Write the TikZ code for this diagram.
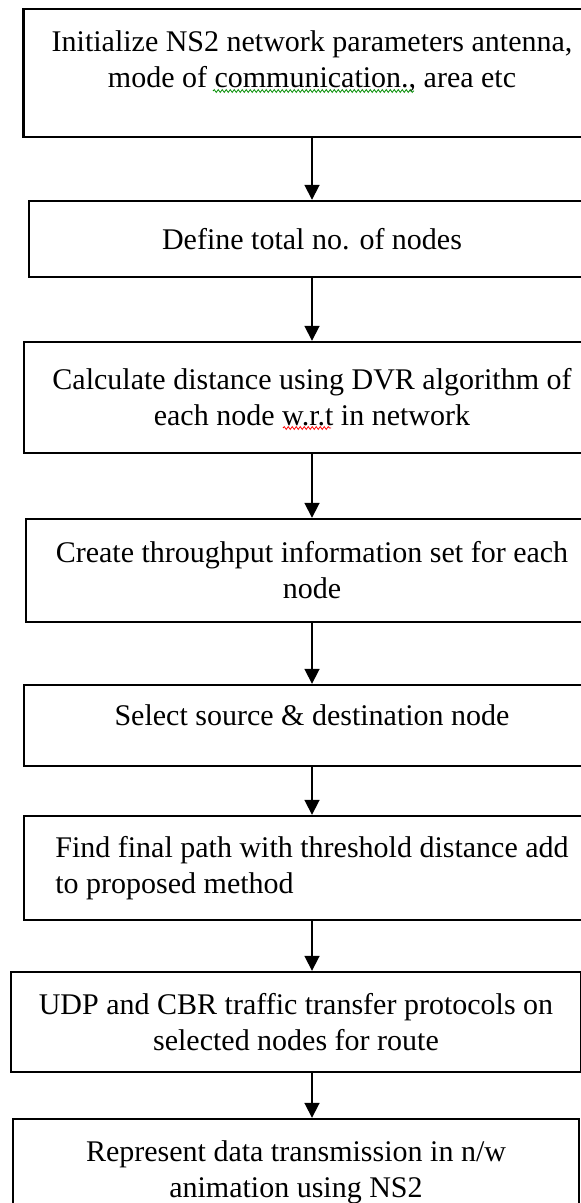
\documentclass[tikz,border=0pt]{standalone}
\usepackage{fontspec}
\setmainfont{Liberation Serif}
\usetikzlibrary{arrows.meta, positioning, decorations.pathmorphing}

\begin{document}
\begin{tikzpicture}[x=0.5pt,y=-0.5pt,
    stepbox/.style={draw,line width=1.2pt,inner xsep=14pt,align=center,
        font=\fontsize{15}{18}\selectfont},
    flow/.style={-{Triangle[length=7.5pt,width=7.5pt]},line width=0.9pt},
    spellwave/.style={line width=0.4pt,decorate,
        decoration={snake,segment length=2pt,amplitude=0.7pt}}]

% page frame
\useasboundingbox (0,0) rectangle (581,1203);
\clip (0,0) rectangle (581,1203);

\def\midx{312}
\def\lowx{296}

\node[stepbox,minimum width=288pt,minimum height=64pt] (init) at (\midx,73)
    {Initialize NS2 network parameters antenna,\\ mode of communication., area etc\\[-4pt]\mbox{}};
\node[stepbox,minimum width=283pt,minimum height=38pt] (define) at (\midx,239)
    {Define total no. of nodes};
\node[stepbox,minimum width=288pt,minimum height=55.5pt] (dist) at (\midx,397.5)
    {Calculate distance using DVR algorithm of\\ each node w.r.t in network};
\node[stepbox,minimum width=286pt,minimum height=51.5pt] (thru) at (\midx,570.5)
    {Create throughput information set for each\\ node};
\node[stepbox,minimum width=288pt,minimum height=40.5pt] (select) at (\midx,725.5)
    {Select source \& destination node\\[-7.5pt]\mbox{}};
\node[stepbox,align=left,minimum width=288pt,minimum height=52pt] (path) at (\midx,868)
    {Find final path with threshold distance add\\ to proposed method};
\node[stepbox,minimum width=283pt,minimum height=50pt] (udp) at (\lowx,1022)
    {UDP and CBR traffic transfer protocols on\\ selected nodes for route};
\node[stepbox,minimum width=283pt,minimum height=53pt] (anim) at (\lowx,1172)
    {Represent data transmission in n/w\\ animation using NS2};

% spell check marks
\draw[spellwave,green!55!black] (213,91) -- (414,91);
\draw[spellwave,red] (283,428) -- (331,428);

\foreach \a/\b in {init/define, define/dist, dist/thru, thru/select, select/path}
    \draw[flow] (\a) -- (\b);
\draw[flow] (path.south) -- (path.south |- udp.north);
\draw[flow] (udp.south -| path.south) -- (anim.north -| path.south);

\end{tikzpicture}
\end{document}
